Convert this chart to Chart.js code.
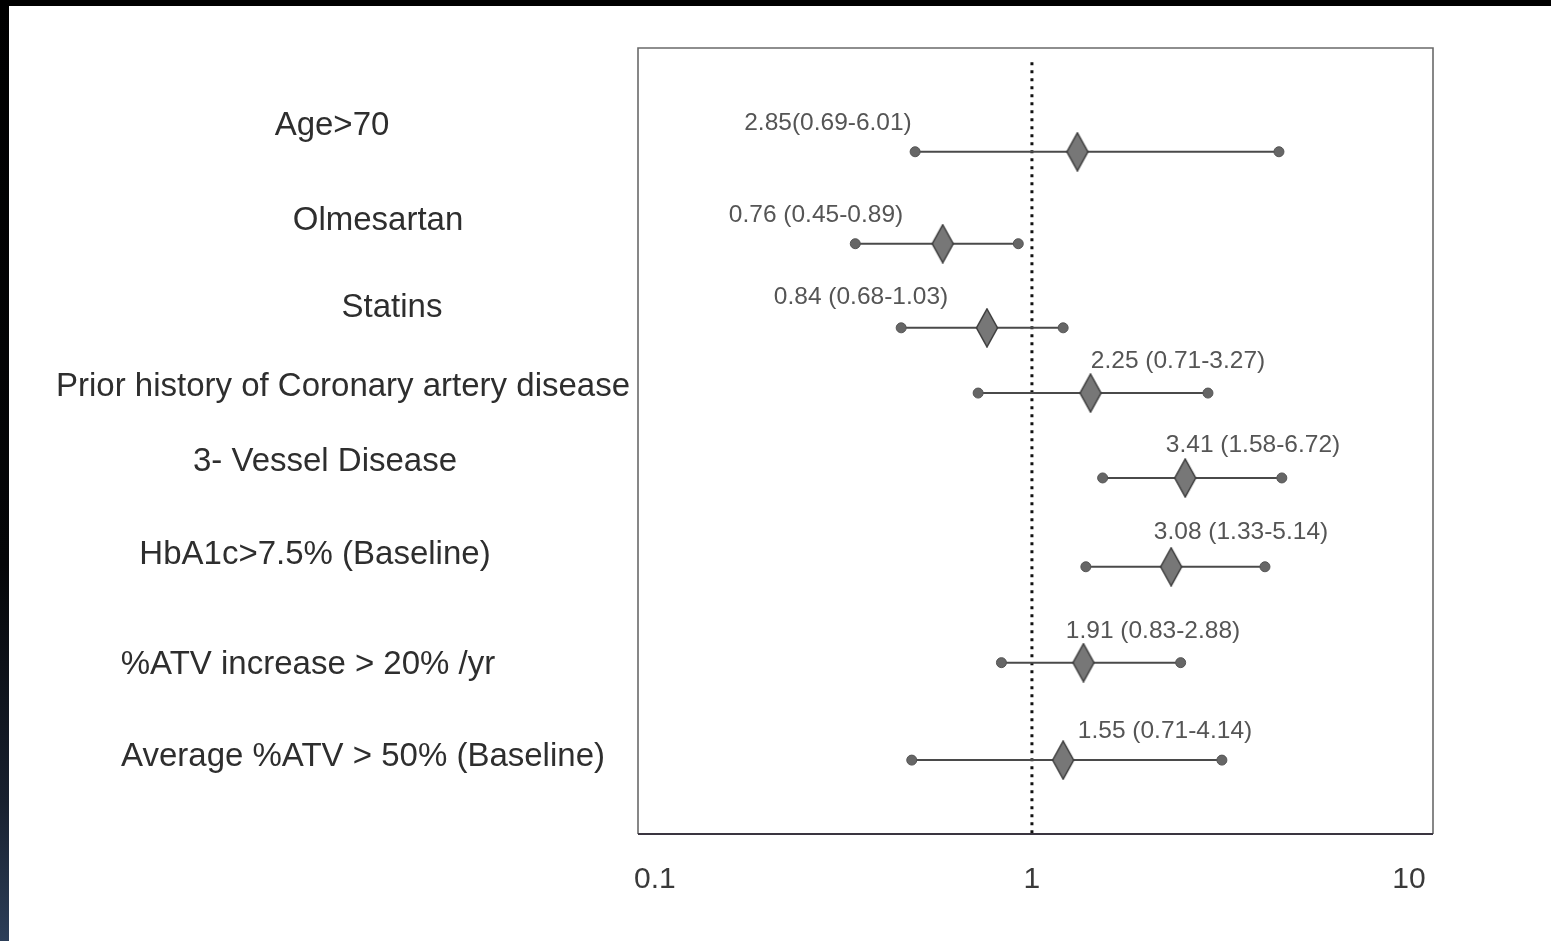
<!DOCTYPE html>
<html>
<head>
<meta charset="utf-8">
<script src="https://cdn.jsdelivr.net/npm/chart.js@4/dist/chart.umd.min.js"></script>
<style>
  html, body { margin: 0; padding: 0; background: #ffffff; width: 1551px; height: 941px; overflow: hidden; }
  #wrap { position: relative; width: 1551px; height: 941px; }
  #topband { position: absolute; left: 0; top: 0; width: 1551px; height: 6px; background: #000; }
  #leftband { position: absolute; left: 0; top: 0; width: 9px; height: 941px; background: linear-gradient(#000 0%, #050608 60%, #18202e 85%, #2c3e58 100%); }
  canvas { position: absolute; left: 0; top: 0; }
</style>
</head>
<body>
<div id="wrap">
  <canvas id="c" width="1551" height="941"></canvas>
  <div id="topband"></div>
  <div id="leftband"></div>
</div>
<script>
// ---- data ----
const categories = [
  "Age>70",
  "Olmesartan",
  "Statins",
  "Prior history of Coronary artery disease",
  "3- Vessel Disease",
  "HbA1c>7.5% (Baseline)",
  "%ATV increase > 20% /yr",
  "Average %ATV > 50% (Baseline)"
];
const pointEstimate = [1.32, 0.58, 0.76, 1.43, 2.55, 2.34, 1.37, 1.21];
const lowerCI       = [0.49, 0.34, 0.45, 0.72, 1.54, 1.39, 0.83, 0.48];
const upperCI       = [4.52, 0.92, 1.21, 2.93, 4.60, 4.15, 2.48, 3.19];
const rowPosition   = [13.2, 24.9, 35.6, 43.9, 54.7, 66.0, 78.2, 90.6];
const annotationText = [
  "2.85(0.69-6.01)",
  "0.76 (0.45-0.89)",
  "0.84 (0.68-1.03)",
  "2.25 (0.71-3.27)",
  "3.41 (1.58-6.72)",
  "3.08 (1.33-5.14)",
  "1.91 (0.83-2.88)",
  "1.55 (0.71-4.14)"
];
const tickValues = [0.1, 1, 10];
const tickLabels = ["0.1", "1", "10"];
const referenceValue = 1;

// ---- layout (pixel placement of free text, from the picture) ----
const labelCenterX = [332, 378, 392, 343, 325, 315, 308, 363];
const labelCenterY = [126, 221, 308, 387, 462, 555, 665, 757];
const annotCenterX = [828, 816, 861, 1178, 1253, 1241, 1153, 1165];
const annotCenterY = [123, 215, 297, 361, 445, 532, 631, 731];

const FONT = "'Liberation Sans', Arial, 'DejaVu Sans', sans-serif";

// elongated diamond marker
const diamond = document.createElement('canvas');
diamond.width = 24; diamond.height = 40;
(function () {
  const g = diamond.getContext('2d');
  g.beginPath();
  g.moveTo(12, 1); g.lineTo(22.5, 20); g.lineTo(12, 39); g.lineTo(1.5, 20); g.closePath();
  g.fillStyle = '#777777'; g.fill();
  g.lineWidth = 1.5; g.strokeStyle = '#3c3c3c'; g.stroke();
})();

const datasets = [];
// reference line at 1
datasets.push({
  type: 'line',
  data: [{ x: referenceValue, y: 1.8 }, { x: referenceValue, y: 100 }],
  borderColor: '#111111', borderWidth: 3, borderDash: [3, 5],
  pointRadius: 0, order: 5
});
// CI whiskers
categories.forEach((c, i) => {
  datasets.push({
    type: 'line',
    label: c,
    data: [{ x: lowerCI[i], y: rowPosition[i] }, { x: upperCI[i], y: rowPosition[i] }],
    borderColor: '#4a4a4a', borderWidth: 2,
    pointRadius: 5, pointBackgroundColor: '#666666', pointBorderColor: '#555555', pointBorderWidth: 1,
    order: 2
  });
});
// point estimates
datasets.push({
  type: 'scatter',
  data: pointEstimate.map((v, i) => ({ x: v, y: rowPosition[i] })),
  pointStyle: diamond, pointRadius: 12,
  order: 1
});

const textPlugin = {
  id: 'forestText',
  beforeDraw(chart) {
    const ctx = chart.ctx;
    ctx.save();
    ctx.fillStyle = '#ffffff';
    ctx.fillRect(0, 0, chart.width, chart.height);
    ctx.restore();
  },
  afterDatasetsDraw(chart) {
    const ctx = chart.ctx, a = chart.chartArea;
    ctx.save();
    // frame
    ctx.strokeStyle = '#6a6a6a'; ctx.lineWidth = 1.6;
    ctx.beginPath();
    ctx.moveTo(a.left, a.bottom); ctx.lineTo(a.left, a.top);
    ctx.lineTo(a.right, a.top); ctx.lineTo(a.right, a.bottom);
    ctx.stroke();
    ctx.strokeStyle = '#3a3540'; ctx.lineWidth = 2.2;
    ctx.beginPath(); ctx.moveTo(a.left, a.bottom); ctx.lineTo(a.right, a.bottom); ctx.stroke();
    // row labels
    ctx.textAlign = 'center'; ctx.textBaseline = 'middle';
    ctx.fillStyle = '#2e2e2e';
    ctx.font = '33px ' + FONT;
    categories.forEach((c, i) => ctx.fillText(c, labelCenterX[i], labelCenterY[i]));
    // annotations
    ctx.fillStyle = '#555555';
    ctx.font = '24.5px ' + FONT;
    annotationText.forEach((t, i) => ctx.fillText(t, annotCenterX[i], annotCenterY[i]));
    ctx.restore();
  }
};

new Chart(document.getElementById('c'), {
  type: 'scatter',
  data: { datasets },
  options: {
    responsive: false,
    animation: false,
    devicePixelRatio: 1,
    layout: { padding: { left: 638, right: 118, top: 48, bottom: 15 } },
    plugins: { legend: { display: false }, tooltip: { enabled: false } },
    scales: {
      x: {
        type: 'logarithmic',
        min: 0.0902, max: 11.58,
        grid: { display: false, drawTicks: false },
        border: { display: false },
        afterBuildTicks(axis) { axis.ticks = tickValues.map(v => ({ value: v })); },
        ticks: {
          autoSkip: false, maxRotation: 0, padding: 28,
          color: '#3a3a3a',
          font: { family: FONT, size: 30 },
          callback(v) { const k = tickValues.indexOf(v); return k >= 0 ? tickLabels[k] : ''; }
        }
      },
      y: {
        type: 'linear', reverse: true, min: 0, max: 100, display: false
      }
    }
  },
  plugins: [textPlugin]
});
</script>
</body>
</html>
